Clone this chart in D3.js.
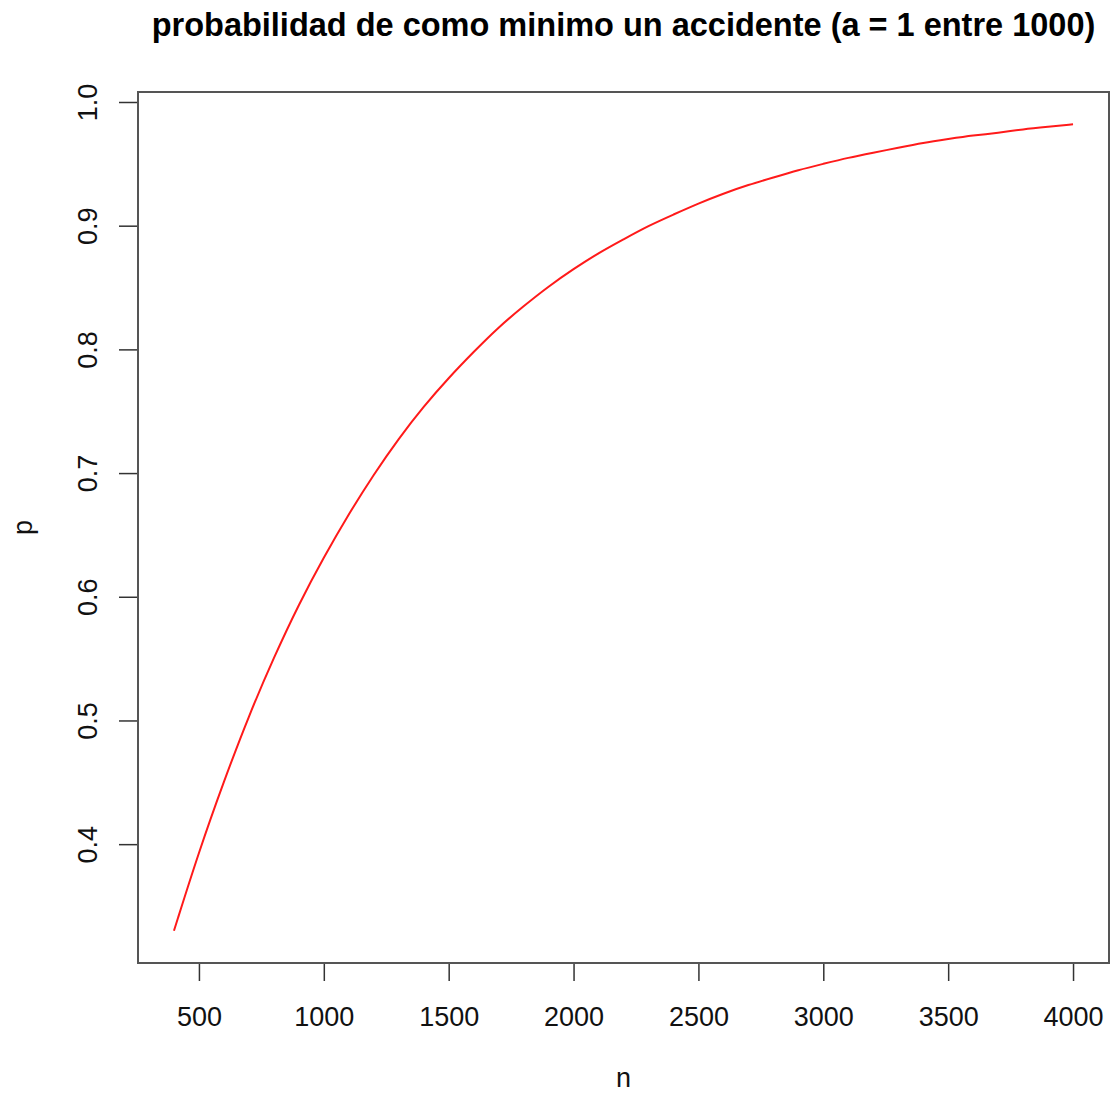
<!DOCTYPE html>
<html>
<head>
<meta charset="utf-8">
<script src="https://cdn.jsdelivr.net/npm/d3@7"></script>
<style>
  html, body { margin: 0; padding: 0; background: #fff; }
  svg { display: block; font-family: "Liberation Sans", Arial, Helvetica, sans-serif; }
</style>
</head>
<body>
<svg id="chart" width="1112" height="1094"></svg>
<script>
// number of trials n
const nValues = [400, 500, 600, 700, 800, 900, 1000, 1100, 1200, 1300, 1400, 1500,
  1600, 1700, 1800, 1900, 2000, 2100, 2200, 2300, 2400, 2500, 2600, 2700, 2800,
  2900, 3000, 3100, 3200, 3300, 3400, 3500, 3600, 3700, 3800, 3900, 4000];
// probability of at least one accident
const pValues = [0.330, 0.394, 0.451, 0.504, 0.551, 0.594, 0.632, 0.667, 0.699, 0.728,
  0.754, 0.777, 0.798, 0.818, 0.835, 0.851, 0.865, 0.878, 0.889, 0.900, 0.909, 0.918,
  0.926, 0.933, 0.939, 0.945, 0.950, 0.955, 0.959, 0.963, 0.967, 0.970, 0.973, 0.975,
  0.978, 0.980, 0.982];
const xTicks = [500, 1000, 1500, 2000, 2500, 3000, 3500, 4000];
const yTicks = [0.4, 0.5, 0.6, 0.7, 0.8, 0.9, 1.0];

const titleText = "probabilidad de como minimo un accidente (a = 1 entre 1000)";
const xLabel = "n";
const yLabel = "p";

const svg = d3.select("#chart");
const plot = { left: 138, right: 1109, top: 92, bottom: 963 };
const labelFont = 27;

// R-style 4% padding on each side of the data range
function padded(ext) {
  const d = (ext[1] - ext[0]) * 0.04;
  return [ext[0] - d, ext[1] + d];
}

const x = d3.scaleLinear().domain(padded(d3.extent(nValues))).range([plot.left, plot.right]);
const y = d3.scaleLinear().domain(padded(d3.extent(pValues))).range([plot.bottom, plot.top]);

const axisColor = "#333";

// x axis
const gx = svg.append("g")
  .attr("transform", `translate(0,${plot.bottom})`)
  .call(d3.axisBottom(x).tickValues(xTicks).tickSize(18).tickPadding(26).tickFormat(d3.format("d")));
gx.select(".domain").remove();
gx.append("line")
  .attr("x1", x(xTicks[0])).attr("x2", x(xTicks[xTicks.length - 1]))
  .attr("stroke", axisColor).attr("stroke-width", 1.5);
gx.selectAll(".tick line").attr("stroke", axisColor).attr("stroke-width", 1.5);
gx.selectAll(".tick text").attr("fill", "#111").attr("font-size", labelFont)
  .attr("font-family", "Liberation Sans, Arial, sans-serif");

// y axis
const gy = svg.append("g")
  .attr("transform", `translate(${plot.left},0)`)
  .call(d3.axisLeft(y).tickValues(yTicks).tickSize(19).tickFormat(d3.format(".1f")));
gy.select(".domain").remove();
gy.append("line")
  .attr("y1", y(yTicks[0])).attr("y2", y(yTicks[yTicks.length - 1]))
  .attr("stroke", axisColor).attr("stroke-width", 1.5);
gy.selectAll(".tick line").attr("stroke", axisColor).attr("stroke-width", 1.5);
gy.selectAll(".tick text")
  .attr("fill", "#111").attr("font-size", labelFont)
  .attr("font-family", "Liberation Sans, Arial, sans-serif")
  .attr("x", null).attr("dy", null)
  .attr("text-anchor", "middle")
  .attr("transform", "translate(-41,0) rotate(-90)")
  .attr("y", 0);

// plot frame
svg.append("rect")
  .attr("x", plot.left).attr("y", plot.top)
  .attr("width", plot.right - plot.left).attr("height", plot.bottom - plot.top)
  .attr("fill", "none").attr("stroke", "#555").attr("stroke-width", 2);

// curve
const line = d3.line()
  .x((d, i) => x(nValues[i]))
  .y(d => y(d))
  .curve(d3.curveBasis);
svg.append("path")
  .datum(pValues)
  .attr("d", line)
  .attr("fill", "none")
  .attr("stroke", "#ff1a1a")
  .attr("stroke-width", 2);

// title
svg.append("text")
  .attr("x", (plot.left + plot.right) / 2).attr("y", 36)
  .attr("text-anchor", "middle")
  .attr("font-weight", "bold").attr("font-size", 32.5)
  .attr("fill", "#000")
  .text(titleText);

// axis labels
svg.append("text")
  .attr("x", (plot.left + plot.right) / 2).attr("y", 1087)
  .attr("text-anchor", "middle").attr("font-size", labelFont).attr("fill", "#111")
  .text(xLabel);
svg.append("text")
  .attr("transform", `translate(32,${(plot.top + plot.bottom) / 2}) rotate(-90)`)
  .attr("text-anchor", "middle").attr("font-size", labelFont).attr("fill", "#111")
  .text(yLabel);
</script>
</body>
</html>
